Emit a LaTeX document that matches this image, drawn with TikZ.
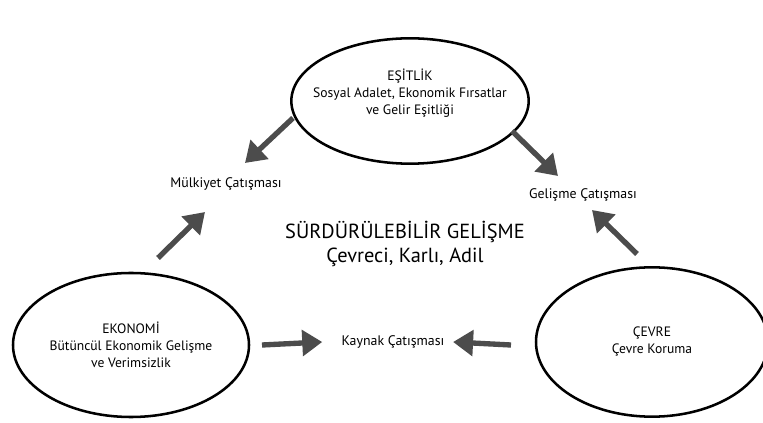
\documentclass[tikz,border=0pt]{standalone}
\usepackage{fontspec}
\setmainfont{PT Sans}
\usepackage{tikz}
\usetikzlibrary{arrows.meta,shapes.geometric,positioning}

\tikzset{
  area/.style={ellipse,draw=black,line width=1.9pt,inner sep=0pt,align=center,
    font=\fontsize{10.2}{12.7}\selectfont,text=black},
  areatext/.style={align=center,font=\fontsize{10.2}{12.7}\selectfont,text=black},
  conflict/.style={font=\fontsize{10.4}{12}\selectfont,text=black},
  fatarrow/.style={draw=black!70,line width=4pt,
    -{Triangle[length=15pt,width=19pt]}}
}

\begin{document}
\begin{tikzpicture}[x=0.75pt,y=-0.75pt]
\useasboundingbox[fill=white] (0,0) rectangle (763,423);

% the three areas
\node[area,minimum width=178pt,minimum height=94pt] (esitlik) at (410,101) {};
\node[areatext] (esitlik-txt) at ([yshift=6pt]esitlik.center)
  {EŞİTLİK\\Sosyal Adalet, Ekonomik Fırsatlar\\ve Gelir Eşitliği};
\node[area,minimum width=177pt,minimum height=108pt] (ekonomi) at (131,345)
  {EKONOMİ\\Bütüncül Ekonomik Gelişme\\ve Verimsizlik};
\node[area,minimum width=174pt,minimum height=112pt] (cevre) at (652,342)
  {ÇEVRE\\Çevre Koruma};

% conflicts
\node[conflict] (mulkiyet) at (226,184) {Mülkiyet Çatışması};
\node[conflict] (gelisme) at (583,195) {Gelişme Çatışması};
\node[conflict] (kaynak) at (393,342) {Kaynak Çatışması};

% centre
\node[font=\fontsize{15.3}{18}\selectfont,text=black,align=center] (surdur) at (405,244)
  {SÜRDÜRÜLEBİLİR GELİŞME\\Çevreci, Karlı, Adil};

% arrow ends
\coordinate (m-out) at (293,118);
\coordinate (m-in) at (245,163);
\coordinate (g-out) at (512,131);
\coordinate (g-in) at (558,176);
\coordinate (e-out) at (158,258);
\coordinate (e-in) at (205,212);
\coordinate (c-out) at (637,254);
\coordinate (c-in) at (592,210);
\coordinate (k-left) at (262,345);
\coordinate (k-right) at (511,345);

\draw[fatarrow] (k-left) -- ([xshift=-11pt]kaynak.west);
\draw[fatarrow] (k-right) -- ([xshift=3pt]kaynak.east);
\draw[fatarrow] (m-out) -- (m-in);
\draw[fatarrow] (g-out) -- (g-in);
\draw[fatarrow] (e-out) -- (e-in);
\draw[fatarrow] (c-out) -- (c-in);
\end{tikzpicture}
\end{document}
